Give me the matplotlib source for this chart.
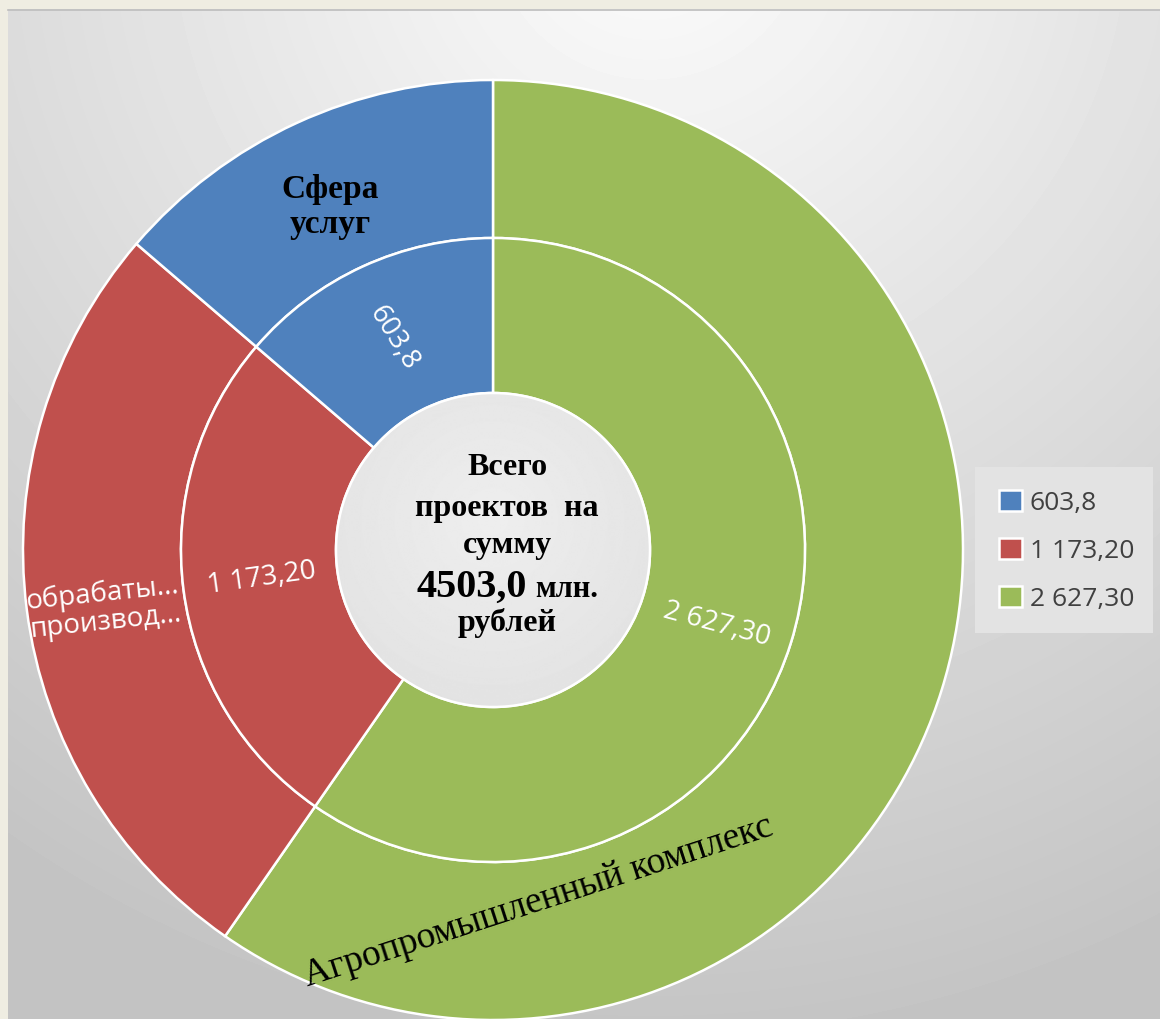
import numpy as np
import matplotlib
matplotlib.use("Agg")
import matplotlib.pyplot as plt
from matplotlib.patches import Circle, Rectangle

# data
values = [2627.3, 1173.2, 603.8]
value_labels = ["2 627,30", "1 173,20", "603,8"]
colors = ["#9BBB59", "#C0504D", "#4F81BD"]
outer_labels = ["Агропромышленный комплекс", "обрабаты...\nпроизвод...", "Сфера\nуслуг"]
center_lines = ["Всего", "проектов  на", "сумму", "рублей"]
total_text = "4503,0"

W, H = 1160, 1019
SERIF = "Liberation Serif"
SANS = "Open Sans"


def Y(py):
    # picture rows -> data y
    return H - py


fig = plt.figure(figsize=(W / 100, H / 100), dpi=100)
fig.patch.set_facecolor("#efede2")
ax = fig.add_axes([0, 0, 1, 1])

# background gradient panel
yy, xx = np.mgrid[9:H, 8:W]
d = np.hypot(xx - 650, yy + 80)
bg = np.clip(252 - 50 * d / 1000, 196, 255) / 255
ax.imshow(bg, cmap="gray", vmin=0, vmax=1, extent=(8, W, Y(H), Y(9)),
          origin="upper", interpolation="bilinear", zorder=0)
ax.plot([8, W], [Y(9.5), Y(9.5)], color="#bdbdbd", lw=1.2, zorder=1)

cx, cy = 493, Y(550)
wp = dict(edgecolor="white", linewidth=1.8)
outer, _ = ax.pie(values, colors=colors, radius=470, center=(cx, cy), startangle=90,
                  counterclock=False, wedgeprops=dict(width=158, **wp))
inner, _ = ax.pie(values, colors=colors, radius=312, center=(cx, cy), startangle=90,
                  counterclock=False, wedgeprops=dict(width=155, **wp))
for w in outer + inner:
    w.set_zorder(2)

# center disk with soft gradient
gy, gx = np.mgrid[-157:158, -157:158]
gd = np.hypot(gx, gy + 30) / 200
disk = np.clip(238 - 12 * gd, 222, 238) / 255
im = ax.imshow(disk, cmap="gray", vmin=0, vmax=1,
               extent=(cx - 157, cx + 157, cy - 157, cy + 157), origin="upper", zorder=3)
clip = Circle((cx, cy), 157, transform=ax.transData)
im.set_clip_path(clip)
ax.add_patch(Circle((cx, cy), 157, fc="none", ec="white", lw=1.8, zorder=4))

ax.set_xlim(0, W)
ax.set_ylim(0, H)
ax.set_aspect("auto")
ax.axis("off")

# center text
bold = dict(family=SERIF, weight="bold", color="black", zorder=5)
ax.text(507, Y(475), center_lines[0], ha="center", va="baseline", fontsize=23, **bold)
ax.text(507, Y(516), center_lines[1], ha="center", va="baseline", fontsize=23, **bold)
ax.text(507, Y(553), center_lines[2], ha="center", va="baseline", fontsize=23, **bold)
ax.text(527, Y(597), total_text, ha="right", va="baseline", fontsize=29, **bold)
ax.text(535, Y(597), "млн.", ha="left", va="baseline", fontsize=22, **bold)
ax.text(507, Y(631), center_lines[3], ha="center", va="baseline", fontsize=23, **bold)

# inner ring value labels
lab = dict(family=SANS, color="white", fontsize=20, ha="center", va="center",
           rotation_mode="anchor", zorder=5)
ax.text(717, Y(625), value_labels[0], rotation=-15, **lab)
ax.text(262, Y(578), value_labels[1], rotation=8, **lab)
ax.text(393, Y(338), value_labels[2], rotation=-58, **lab)

# outer ring category labels
ax.text(541, Y(910), outer_labels[0], family=SERIF, fontsize=27, color="black",
        rotation=18, ha="center", va="baseline", rotation_mode="anchor", zorder=5)
ax.text(104, Y(608), outer_labels[1], family=SANS, fontsize=20, color="white",
        rotation=6, ha="center", va="center", rotation_mode="anchor",
        linespacing=1.05, zorder=5)
ax.text(330, Y(207), outer_labels[2], family=SERIF, weight="bold", fontsize=24,
        color="black", ha="center", va="center", linespacing=1.2, zorder=5)

# legend
ax.add_patch(Rectangle((975, Y(633)), 178, 166, fc="#e3e3e3", ec="none", zorder=4))
leg = ax.legend(outer[::-1], value_labels[::-1], loc="upper left",
                bbox_to_anchor=(986 / W, 1 - 477 / H), bbox_transform=fig.transFigure,
                frameon=False, handlelength=0.85, handleheight=0.85, handletextpad=0.3,
                labelspacing=0.85, borderpad=0,
                prop=dict(family=SANS, size=19))
for t in leg.get_texts():
    t.set_color("#404040")
leg.set_zorder(6)

fig.savefig("out.png", dpi=100, facecolor=fig.get_facecolor())
